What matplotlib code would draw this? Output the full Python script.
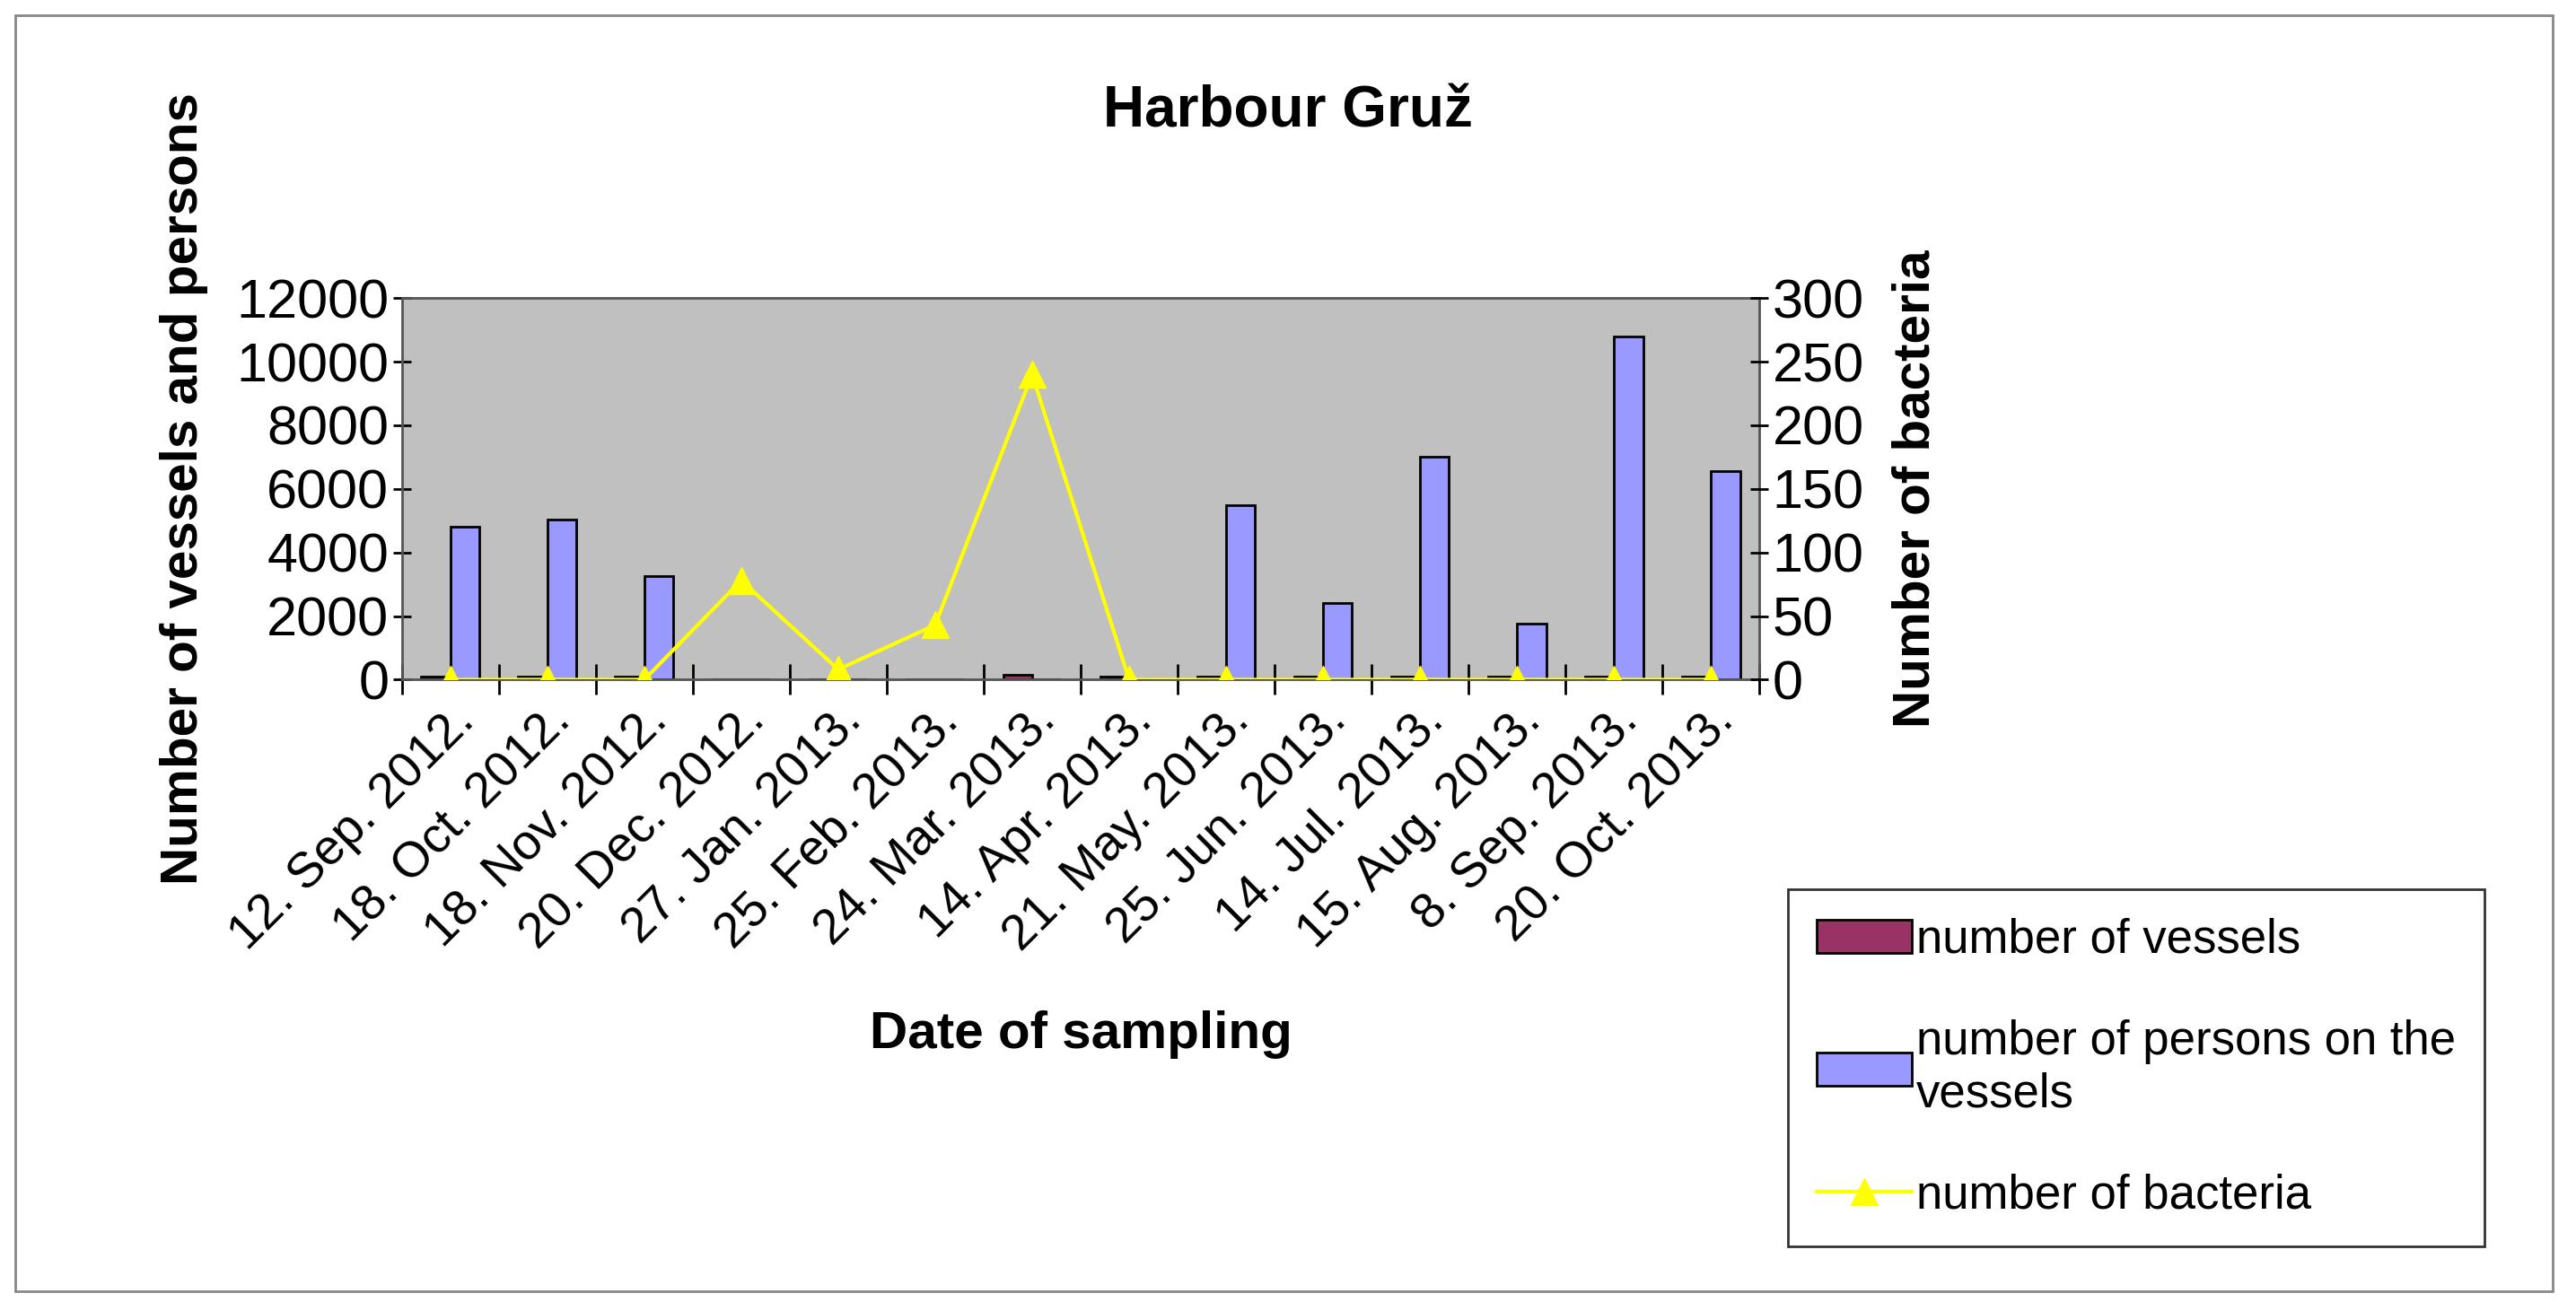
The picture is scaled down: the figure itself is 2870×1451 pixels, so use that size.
import matplotlib
matplotlib.use("Agg")
import matplotlib.pyplot as plt
import numpy as np
from matplotlib.lines import Line2D
from matplotlib.patches import Patch, Rectangle

plt.rcParams['font.family'] = ['Liberation Sans', 'DejaVu Sans']

dates = ["12. Sep. 2012.", "18. Oct. 2012.", "18. Nov. 2012.", "20. Dec. 2012.",
         "27. Jan. 2013.", "25. Feb. 2013.", "24. Mar. 2013.", "14. Apr. 2013.",
         "21. May. 2013.", "25. Jun. 2013.", "14. Jul. 2013.", "15. Aug. 2013.",
         "8. Sep. 2013.", "20. Oct. 2013."]
vessels = [100, 100, 100, 0, 0, 0, 150, 100, 100, 100, 100, 100, 100, 100]
persons = [4800, 5050, 3250, 0, 0, 0, 0, 0, 5500, 2400, 7000, 1750, 10800, 6550]
bacteria = [0, 0, 0, 78, 8, 43, 240, 0, 0, 0, 0, 0, 0, 0]

fig = plt.figure(figsize=(28.7, 14.51), dpi=100)
fig.patches.append(Rectangle((0.006, 0.008), 0.985, 0.98, transform=fig.transFigure,
                             fill=False, edgecolor='#888888', lw=2))
ax = fig.add_axes([0.156, 0.478, 0.527, 0.293])
ax.set_facecolor('#c0c0c0')
x = np.arange(len(dates))
w = 0.3
ax.bar(x - w/2, vessels, w, color='#993366', edgecolor='black', lw=2)
ax.bar(x + w/2, persons, w, color='#9999ff', edgecolor='black', lw=2)
ax.set_xlim(-0.5, len(dates) - 0.5)
ax.set_ylim(0, 12000)
ax.set_yticks(range(0, 12001, 2000))
ax.set_xticks(np.arange(len(dates) + 1) - 0.5, minor=False)
ax.set_xticklabels([])
ax.set_xticks(x, minor=True)
ax.set_xticklabels(dates, minor=True, rotation=45, ha='right', rotation_mode='anchor', fontsize=40)
ax.tick_params(axis='x', which='minor', length=0, pad=14)
ax.tick_params(axis='x', which='major', length=24, width=2, direction='inout')
ax.tick_params(axis='y', labelsize=44, length=14, width=2, direction='inout')
for s in ax.spines.values():
    s.set_color('#555555'); s.set_linewidth(2)
ax.set_ylabel("Number of vessels and persons", fontsize=42, fontweight='bold', labelpad=22)
ax.set_xlabel("Date of sampling", fontsize=42, fontweight='bold', labelpad=40)

ax2 = ax.twinx()
ax2.plot(x, bacteria, color='yellow', lw=3, marker='^', markersize=22)
ax2.set_ylim(0, 300)
ax2.set_yticks(range(0, 301, 50))
ax2.tick_params(axis='y', labelsize=44, length=14, width=2, direction='inout')
ax2.set_ylabel("Number of bacteria", fontsize=42, fontweight='bold', labelpad=22)
for s in ax2.spines.values():
    s.set_visible(False)

fig.suptitle("Harbour Gruž", fontsize=46, fontweight='bold', y=0.935)

handles = [Patch(facecolor='#993366', edgecolor='black', lw=2),
           Patch(facecolor='#9999ff', edgecolor='black', lw=2),
           Line2D([], [], color='yellow', lw=3, marker='^', markersize=22)]
labels = ["number of vessels", "number of persons on the\nvessels", "number of bacteria"]
leg = fig.legend(handles, labels, loc='upper left', bbox_to_anchor=(0.685, 0.335),
                 fontsize=38, frameon=True, fancybox=False, edgecolor='black',
                 labelspacing=1.2, handlelength=2.0, handletextpad=0.1, borderpad=0.6)
leg.get_frame().set_linewidth(2)

fig.savefig("out.png", dpi=100)
